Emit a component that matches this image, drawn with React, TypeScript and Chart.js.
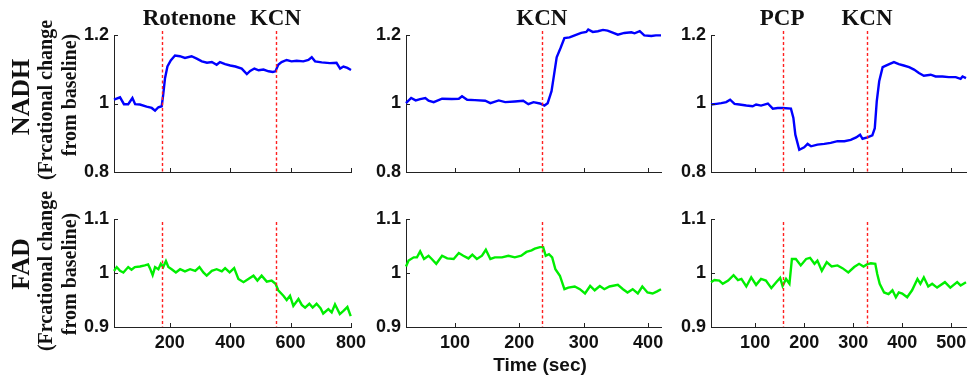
import React, { useEffect, useRef } from "react";
import { Chart, registerables } from "chart.js";
Chart.register(...registerables);

// ---------- Data ----------
// Panel 1: Rotenone then KCN — NADH
const rotNadhT = [15, 35, 48, 62, 76, 85, 101, 123, 140, 151, 162, 173, 178, 184, 192, 203, 217, 233, 250, 272, 289, 306, 323, 339, 355, 366, 383, 400, 417, 438, 455, 466, 480, 494, 510, 527, 541, 550, 559, 570, 587, 603, 620, 642, 659, 670, 681, 703, 730, 752, 764, 775, 788, 800];
const rotNadhV = [1.011, 1.018, 0.998, 0.998, 1.016, 0.998, 0.997, 0.991, 0.987, 0.979, 0.989, 0.992, 1.026, 1.074, 1.108, 1.126, 1.14, 1.138, 1.133, 1.138, 1.131, 1.123, 1.119, 1.121, 1.113, 1.121, 1.115, 1.111, 1.108, 1.102, 1.086, 1.095, 1.102, 1.097, 1.099, 1.094, 1.092, 1.094, 1.113, 1.121, 1.127, 1.123, 1.125, 1.123, 1.127, 1.135, 1.123, 1.12, 1.118, 1.119, 1.102, 1.108, 1.104, 1.098];
// Panel 4: Rotenone then KCN — FAD
const rotFadT = [15, 24, 35, 46, 62, 73, 84, 101, 117, 128, 134, 143, 151, 162, 170, 178, 187, 195, 206, 220, 234, 250, 267, 284, 298, 311, 322, 339, 355, 372, 383, 398, 413, 427, 444, 460, 477, 490, 504, 521, 537, 550, 559, 576, 587, 598, 609, 626, 637, 648, 662, 673, 686, 699, 708, 725, 736, 747, 763, 775, 788, 799];
const rotFadV = [1.004, 1.011, 1.004, 1.001, 1.011, 1.006, 1.011, 1.012, 1.014, 1.016, 1.009, 0.996, 1.011, 1.007, 1.017, 1.011, 1.022, 1.011, 1.007, 1.001, 1.007, 1.003, 1.007, 1.004, 1.011, 1.001, 0.995, 1.004, 1.007, 1.003, 1.009, 1.001, 1.009, 0.989, 0.983, 0.989, 0.995, 0.986, 0.995, 0.984, 0.986, 0.98, 0.968, 0.958, 0.95, 0.958, 0.939, 0.952, 0.941, 0.936, 0.943, 0.936, 0.943, 0.935, 0.925, 0.933, 0.927, 0.942, 0.924, 0.93, 0.937, 0.92];

// Panel 2: KCN — NADH
const kcnNadhT = [24, 32, 39, 46, 54, 59, 67, 80, 95, 106, 111, 119, 131, 147, 155, 168, 178, 193, 206, 214, 222, 232, 239, 244, 250, 254, 258, 264, 270, 278, 286, 296, 304, 307, 314, 322, 330, 337, 345, 353, 363, 374, 379, 387, 394, 405, 412, 420];
const kcnNadhV = [1.001, 1.016, 1.009, 1.013, 1.016, 1.008, 1.004, 1.014, 1.013, 1.014, 1.021, 1.011, 1.01, 1.008, 1.001, 1.009, 1.004, 1.006, 1.008, 0.998, 1.004, 1.0, 0.994, 1.001, 1.036, 1.085, 1.135, 1.162, 1.191, 1.193, 1.199, 1.206, 1.209, 1.216, 1.209, 1.211, 1.215, 1.213, 1.207, 1.201, 1.206, 1.208, 1.205, 1.211, 1.199, 1.197, 1.199, 1.199];
// Panel 5: KCN — FAD
const kcnFadT = [24, 28, 36, 41, 46, 52, 59, 64, 71, 80, 88, 98, 106, 113, 121, 127, 134, 142, 148, 155, 162, 173, 183, 193, 203, 211, 219, 224, 232, 237, 241, 246, 251, 256, 263, 270, 276, 286, 294, 302, 310, 317, 325, 332, 340, 353, 361, 368, 376, 384, 391, 399, 407, 414, 420];
const kcnFadV = [1.012, 1.023, 1.029, 1.029, 1.04, 1.026, 1.032, 1.026, 1.017, 1.032, 1.027, 1.026, 1.037, 1.032, 1.027, 1.034, 1.026, 1.032, 1.043, 1.026, 1.029, 1.029, 1.032, 1.029, 1.032, 1.039, 1.042, 1.045, 1.048, 1.048, 1.032, 1.035, 1.029, 1.007, 0.995, 0.97, 0.973, 0.975, 0.97, 0.962, 0.976, 0.968, 0.976, 0.97, 0.975, 0.978, 0.97, 0.964, 0.97, 0.962, 0.975, 0.964, 0.962, 0.966, 0.97];

// Panel 3: PCP then KCN — NADH
const pcpNadhT = [10, 21, 31, 41, 49, 58, 68, 82, 95, 102, 112, 126, 136, 146, 156, 173, 178, 182, 190, 200, 207, 214, 227, 241, 254, 268, 282, 295, 306, 314, 319, 329, 339, 344, 348, 353, 360, 370, 383, 393, 403, 414, 424, 434, 444, 458, 468, 482, 495, 509, 519, 523, 530];
const pcpNadhV = [0.997, 0.999, 1.001, 1.004, 1.011, 0.999, 0.997, 0.994, 0.992, 0.997, 0.994, 1.0, 0.985, 0.987, 0.987, 0.985, 0.958, 0.909, 0.865, 0.872, 0.882, 0.875, 0.88, 0.882, 0.885, 0.89, 0.89, 0.894, 0.901, 0.909, 0.897, 0.901, 0.907, 0.928, 1.006, 1.065, 1.106, 1.113, 1.121, 1.115, 1.111, 1.106, 1.099, 1.089, 1.081, 1.084, 1.079, 1.079, 1.077, 1.077, 1.072, 1.079, 1.074];
// Panel 6: PCP then KCN — FAD
const pcpFadT = [10, 17, 27, 34, 45, 56, 65, 72, 82, 92, 102, 112, 122, 133, 143, 151, 156, 163, 170, 175, 183, 193, 204, 212, 221, 227, 236, 246, 256, 268, 278, 290, 302, 312, 321, 328, 336, 345, 349, 354, 363, 372, 380, 387, 393, 400, 410, 420, 431, 437, 444, 453, 461, 471, 487, 498, 512, 519, 530];
const pcpFadV = [0.983, 0.987, 0.986, 0.98, 0.986, 0.996, 0.987, 0.989, 0.975, 0.992, 0.978, 0.989, 0.986, 0.972, 0.983, 0.991, 0.976, 0.989, 0.98, 1.026, 1.026, 1.014, 1.026, 1.028, 1.017, 1.023, 1.004, 1.02, 1.012, 1.014, 1.009, 1.001, 1.011, 1.017, 1.012, 1.016, 1.018, 1.017, 0.998, 0.98, 0.964, 0.961, 0.968, 0.955, 0.964, 0.962, 0.955, 0.968, 0.989, 0.98, 0.992, 0.975, 0.98, 0.973, 0.983, 0.973, 0.983, 0.977, 0.983];

// Drug addition times and labels
const rotEvents = [175, 550];
const rotEventLabels = ["Rotenone", "KCN"];
const kcnEvents = [235];
const kcnEventLabels = ["KCN"];
const pcpEvents = [157, 328];
const pcpEventLabels = ["PCP", "KCN"];

// Axis ticks
const nadhYTicks = [0.8, 1, 1.2];
const fadYTicks = [0.9, 1, 1.1];
const rotXTicks = [200, 400, 600, 800];
const kcnXTicks = [100, 200, 300, 400];
const pcpXTicks = [100, 200, 300, 400, 500];

const xTitle = "Time (sec)";
const nadhTitle = ["NADH", "(Frcational change", "from baseline)"];
const fadTitle = ["FAD", "(Frcational change", "from baseline)"];

// ---------- Layout ----------
const SANS = '"Liberation Sans", Arial, sans-serif';
const SERIF = '"Liberation Serif", "Times New Roman", serif';
const BLUE = "#0000ff";
const GREEN = "#00ee00";

type Txt = { t: string; x: number; y: number; font: string; rot?: boolean };

type Panel = {
  L: number; T: number; W: number; H: number;
  areaL: number; areaR: number; areaT: number; areaB: number;
  xs: number[]; vs: number[]; color: string;
  xmin: number; xmax: number; xticks: number[]; showX: boolean;
  ymin: number; ymax: number; yticks: number[];
  events: number[]; eventLabels: string[] | null; labelDx: number[];
  lineTopExtra: number;
  texts: Txt[];
};

function titleTexts(lines: string[], cy: number[]): Txt[] {
  return [
    { t: lines[0], x: 22, y: cy[0], font: `bold 26px ${SERIF}`, rot: true },
    { t: lines[1], x: 47, y: cy[1], font: `bold 20px ${SERIF}`, rot: true },
    { t: lines[2], x: 71, y: cy[2], font: `bold 20px ${SERIF}`, rot: true },
  ];
}

const panels: Panel[] = [
  {
    L: 0, T: 0, W: 372, H: 190, areaL: 114, areaR: 351, areaT: 35, areaB: 172,
    xs: rotNadhT, vs: rotNadhV, color: BLUE, xmin: 15, xmax: 800, xticks: rotXTicks, showX: false,
    ymin: 0.8, ymax: 1.2, yticks: nadhYTicks, events: rotEvents, eventLabels: rotEventLabels, labelDx: [27, 0],
    lineTopExtra: 4, texts: titleTexts(nadhTitle, [97, 100, 95]),
  },
  {
    L: 360, T: 0, W: 310, H: 190, areaL: 406, areaR: 661, areaT: 35, areaB: 172,
    xs: kcnNadhT, vs: kcnNadhV, color: BLUE, xmin: 24, xmax: 420, xticks: kcnXTicks, showX: false,
    ymin: 0.8, ymax: 1.2, yticks: nadhYTicks, events: kcnEvents, eventLabels: kcnEventLabels, labelDx: [0],
    lineTopExtra: 4, texts: [],
  },
  {
    L: 670, T: 0, W: 304, H: 190, areaL: 711, areaR: 966, areaT: 35, areaB: 172,
    xs: pcpNadhT, vs: pcpNadhV, color: BLUE, xmin: 10, xmax: 530, xticks: pcpXTicks, showX: false,
    ymin: 0.8, ymax: 1.2, yticks: nadhYTicks, events: pcpEvents, eventLabels: pcpEventLabels, labelDx: [-1, 0],
    lineTopExtra: 4, texts: [],
  },
  {
    L: 0, T: 190, W: 372, H: 197, areaL: 114, areaR: 351, areaT: 219, areaB: 327,
    xs: rotFadT, vs: rotFadV, color: GREEN, xmin: 15, xmax: 800, xticks: rotXTicks, showX: true,
    ymin: 0.9, ymax: 1.1, yticks: fadYTicks, events: rotEvents, eventLabels: null, labelDx: [0, 0],
    lineTopExtra: -3, texts: titleTexts(fadTitle, [264, 271, 274]),
  },
  {
    L: 360, T: 190, W: 310, H: 197, areaL: 406, areaR: 661, areaT: 219, areaB: 327,
    xs: kcnFadT, vs: kcnFadV, color: GREEN, xmin: 24, xmax: 420, xticks: kcnXTicks, showX: true,
    ymin: 0.9, ymax: 1.1, yticks: fadYTicks, events: kcnEvents, eventLabels: null, labelDx: [0],
    lineTopExtra: -3, texts: [{ t: xTitle, x: 540, y: 366, font: `bold 19px ${SANS}` }],
  },
  {
    L: 670, T: 190, W: 304, H: 197, areaL: 711, areaR: 966, areaT: 219, areaB: 327,
    xs: pcpFadT, vs: pcpFadV, color: GREEN, xmin: 10, xmax: 530, xticks: pcpXTicks, showX: true,
    ymin: 0.9, ymax: 1.1, yticks: fadYTicks, events: pcpEvents, eventLabels: null, labelDx: [0, 0],
    lineTopExtra: -3, texts: [],
  },
];

const AXIS = "#222";

function makeDecor(p: Panel) {
  return {
    id: "decor",
    afterDatasetsDraw(chart: any) {
      const ctx = chart.ctx as CanvasRenderingContext2D;
      const xs = chart.scales.x;
      const ys = chart.scales.y;
      const a = chart.chartArea;
      ctx.save();
      // inward tick marks
      ctx.strokeStyle = AXIS;
      ctx.lineWidth = 1;
      ctx.beginPath();
      p.xticks.forEach((v) => {
        const px = Math.round(xs.getPixelForValue(v)) + 0.5;
        ctx.moveTo(px, a.bottom);
        ctx.lineTo(px, a.bottom - 4);
      });
      p.yticks.forEach((v) => {
        const py = Math.round(ys.getPixelForValue(v)) + 0.5;
        ctx.moveTo(a.left, py);
        ctx.lineTo(a.left + 4, py);
      });
      ctx.stroke();
      // dashed event lines
      ctx.strokeStyle = "#ff1f1f";
      ctx.lineWidth = 1.4;
      ctx.setLineDash([3, 2.5]);
      p.events.forEach((v) => {
        const px = Math.round(xs.getPixelForValue(v)) + 0.5;
        ctx.beginPath();
        ctx.moveTo(px, a.top - p.lineTopExtra);
        ctx.lineTo(px, a.bottom);
        ctx.stroke();
      });
      ctx.setLineDash([]);
      // event labels
      if (p.eventLabels) {
        ctx.fillStyle = "#111";
        ctx.font = `bold 23px ${SERIF}`;
        ctx.textAlign = "center";
        ctx.textBaseline = "middle";
        p.events.forEach((v, i) => {
          const px = xs.getPixelForValue(v) + p.labelDx[i];
          ctx.fillText(p.eventLabels![i], px, 19 - p.T);
        });
      }
      // extra texts (axis titles)
      p.texts.forEach((t) => {
        ctx.save();
        ctx.fillStyle = "#111";
        ctx.font = t.font;
        ctx.textAlign = "center";
        ctx.textBaseline = "middle";
        ctx.translate(t.x - p.L, t.y - p.T);
        if (t.rot) ctx.rotate(-Math.PI / 2);
        ctx.fillText(t.t, 0, 0);
        ctx.restore();
      });
      ctx.restore();
    },
  };
}

function PanelChart({ p }: { p: Panel }) {
  const ref = useRef<HTMLCanvasElement | null>(null);
  useEffect(() => {
    if (!ref.current) return;
    const data = p.xs.map((x, i) => ({ x, y: p.vs[i] }));
    const yW = p.areaL - p.L;
    const xH = p.T + p.H - p.areaB;
    const chart = new Chart(ref.current, {
      type: "line",
      data: {
        datasets: [
          {
            data,
            borderColor: p.color,
            borderWidth: 2.4,
            pointRadius: 0,
            tension: 0,
            fill: false,
            clip: false,
          },
        ],
      },
      options: {
        animation: false,
        responsive: false,
        devicePixelRatio: 1,
        events: [],
        layout: { padding: { top: p.areaT - p.T, right: p.L + p.W - p.areaR, left: 0, bottom: 0 } },
        plugins: { legend: { display: false }, tooltip: { enabled: false } },
        scales: {
          x: {
            type: "linear",
            min: p.xmin,
            max: p.xmax,
            afterBuildTicks: (s: any) => {
              s.ticks = p.xticks.map((v) => ({ value: v }));
            },
            afterFit: (s: any) => {
              s.height = xH;
              s.paddingLeft = 0;
              s.paddingRight = 0;
              s.paddingTop = 0;
              s.paddingBottom = 0;
            },
            grid: { display: false, drawTicks: false },
            border: { display: true, color: AXIS, width: 1 },
            ticks: {
              display: p.showX,
              color: "#111",
              font: { family: SANS, size: 18, weight: "bold" },
              padding: 5,
              maxRotation: 0,
              autoSkip: false,
              callback: (v: any) => String(v),
            },
          },
          y: {
            type: "linear",
            min: p.ymin,
            max: p.ymax,
            afterBuildTicks: (s: any) => {
              s.ticks = p.yticks.map((v) => ({ value: v }));
            },
            afterFit: (s: any) => {
              s.width = yW;
              s.paddingLeft = 0;
              s.paddingRight = 0;
              s.paddingTop = 0;
              s.paddingBottom = 0;
            },
            grid: { display: false, drawTicks: false },
            border: { display: true, color: AXIS, width: 1 },
            ticks: {
              color: "#111",
              font: { family: SANS, size: 18, weight: "bold" },
              padding: 5,
              autoSkip: false,
              callback: (v: any) => String(v),
            },
          },
        },
      } as any,
      plugins: [makeDecor(p)],
    });
    return () => chart.destroy();
  }, [p]);
  return (
    <canvas
      ref={ref}
      width={p.W}
      height={p.H}
      style={{ position: "absolute", left: p.L, top: p.T, width: p.W, height: p.H }}
    />
  );
}

export default function App() {
  return (
    <div
      style={{
        position: "absolute",
        left: 0,
        top: 0,
        width: 974,
        height: 387,
        background: "#fff",
        overflow: "hidden",
      }}
    >
      {panels.map((p, i) => (
        <PanelChart key={i} p={p} />
      ))}
    </div>
  );
}
